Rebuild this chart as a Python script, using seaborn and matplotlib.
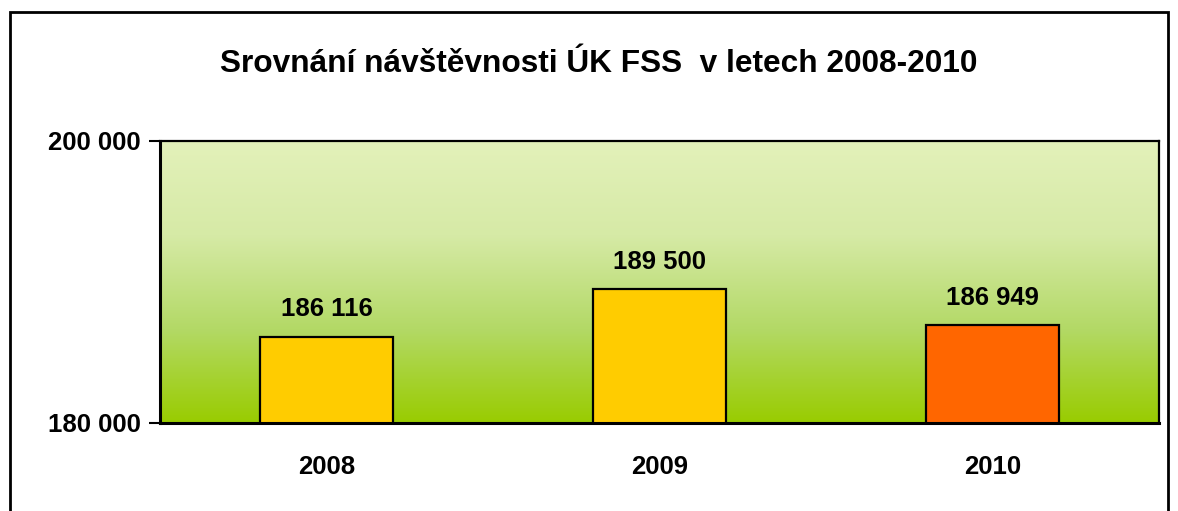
import numpy as np
import pandas as pd
import matplotlib
matplotlib.use('Agg')
import matplotlib.pyplot as plt
import seaborn as sns
from matplotlib.colors import LinearSegmentedColormap

# data
years = ['2008', '2009', '2010']
visits = [186116, 189500, 186949]
bar_colors = ['#FFCC00', '#FFCC00', '#FF6600']
y_ticks = [180000, 200000]

df = pd.DataFrame({'year': years, 'visits': visits})

sns.set_style('white')
plt.rcParams['font.family'] = ['Liberation Sans', 'DejaVu Sans']
plt.rcParams['text.color'] = 'black'
plt.rcParams['xtick.color'] = 'black'
plt.rcParams['ytick.color'] = 'black'

fig = plt.figure(figsize=(11.78, 5.11), dpi=100)
ax = fig.add_axes([160 / 1178, 1 - 423 / 511, 999 / 1178, 282 / 511])

# gradient background of plot area (light at top, strong green at bottom)
grad = LinearSegmentedColormap.from_list('g', ['#E3F1BA', '#D6EAA6', '#B3D966', '#99CC00'])
ax.imshow(np.linspace(0, 1, 256).reshape(-1, 1), cmap=grad, aspect='auto',
          origin='upper', extent=[-0.5, 2.5, 180000, 200000], zorder=0)

sns.barplot(data=df, x='year', y='visits', hue='year', palette=bar_colors,
            saturation=1, width=0.4, edgecolor='black', linewidth=1.6,
            legend=False, ax=ax, zorder=2)

ax.set_xlim(-0.5, 2.5)
ax.set_ylim(180000, 200000)
ax.set_yticks(y_ticks)
ax.set_yticklabels([f'{v:,}'.replace(',', ' ') for v in y_ticks],
                   fontsize=18.5, fontweight='bold')
ax.set_xticks([0, 1, 2])
ax.set_xticklabels(years, fontsize=18.5, fontweight='bold')
ax.tick_params(axis='x', length=0, pad=23)
ax.set_xticks([-0.5, 0.5, 1.5, 2.5], minor=True)
ax.tick_params(axis='x', which='minor', length=7, width=1.5, color='black', direction='out')
ax.tick_params(axis='y', length=8, width=1.5, color='black', direction='out', left=True, pad=6)
ax.set_xlabel('')
ax.set_ylabel('')

for side in ['left', 'bottom']:
    ax.spines[side].set_linewidth(2.2)
for side in ['top', 'right']:
    ax.spines[side].set_linewidth(1.6)
for s in ax.spines.values():
    s.set_color('black')
    s.set_zorder(5)

# value labels
for i, v in enumerate(visits):
    ax.annotate(f'{v:,}'.replace(',', ' '), (i, v), xytext=(0, 11),
                textcoords='offset points', ha='center', va='bottom',
                fontsize=18.5, fontweight='bold')

fig.text(599 / 1178, 1 - 64 / 511, 'Srovnání návštěvnosti ÚK FSS  v letech 2008-2010',
         ha='center', va='center', fontsize=22.8, fontweight='bold')

# outer chart frame (bottom edge outside the picture)
frame = plt.Rectangle((10 / 1178, -0.1), 1158 / 1178, 1.1 - 12 / 511,
                      transform=fig.transFigure, fill=False, edgecolor='black',
                      linewidth=2, zorder=10)
fig.add_artist(frame)

fig.savefig('out.png', dpi=100)
